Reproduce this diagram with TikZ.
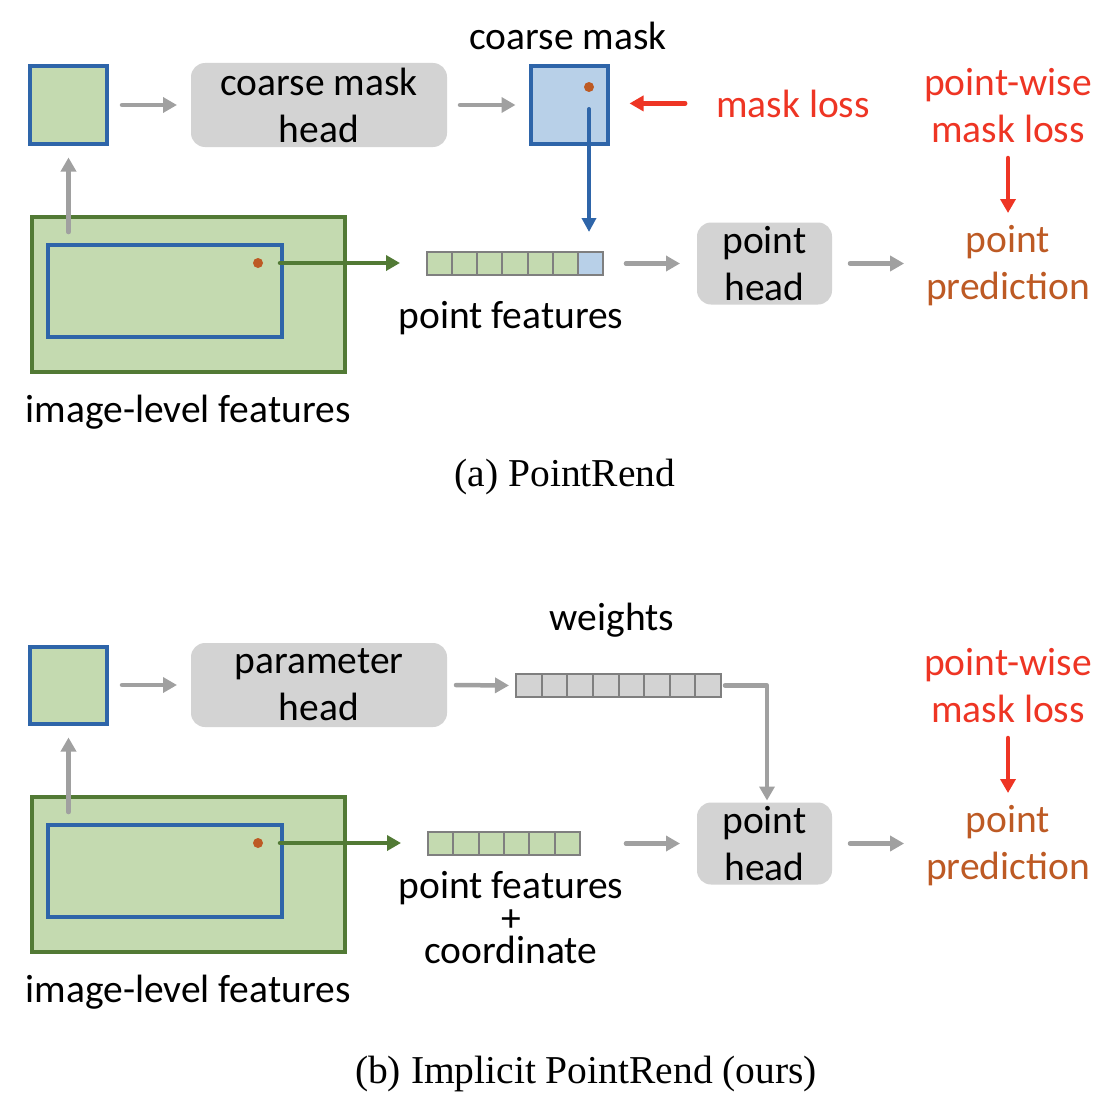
\documentclass[tikz,border=0pt]{standalone}
\usepackage{fontspec}
\setmainfont{Carlito}
\newfontfamily\capfont{Liberation Serif}
\usetikzlibrary{arrows.meta}
\definecolor{lgreen}{HTML}{C4DAB0}
\definecolor{bblue}{HTML}{2E65A9}
\definecolor{dgreen}{HTML}{527A35}
\definecolor{boxgray}{HTML}{D3D3D3}
\definecolor{agray}{HTML}{A0A0A0}
\definecolor{lblue}{HTML}{B8D0E8}
\definecolor{lred}{HTML}{EE3524}
\definecolor{ptbrown}{HTML}{BD5A24}
\definecolor{cellgray}{HTML}{7F7F7F}
\begin{document}
\begin{tikzpicture}[x=1pt,y=-1pt,
  every node/.style={outer sep=0pt},
  txt/.style={inner sep=0pt,font=\fontsize{39.5}{47}\selectfont},
  sqbox/.style={draw=bblue,line width=4pt,fill=lgreen,minimum width=77pt,minimum height=77pt,inner sep=0pt},
  headbox/.style={txt,fill=boxgray,rounded corners=14pt,align=center},
  cellbox/.style={draw=cellgray,line width=2pt,fill=lgreen,minimum height=23pt,inner sep=0pt},
  bigrect/.style={draw=dgreen,line width=4pt,fill=lgreen,minimum width=313pt,minimum height=155pt},
  innerrect/.style={draw=bblue,line width=4pt,minimum width=234pt,minimum height=92pt},
  pdot/.style={circle,fill=ptbrown,minimum size=10pt,inner sep=0pt},
  garrow/.style={draw=agray,line width=4.5pt,line cap=round,line join=round,-{Triangle[length=14pt,width=15pt]}},
  barrow/.style={draw=bblue,line width=4pt,line cap=round,-{Triangle[length=14pt,width=14pt]}},
  rarrow/.style={draw=lred,line width=4.5pt,line cap=round,-{Triangle[length=14pt,width=15pt]}},
  gnarrow/.style={draw=dgreen,line width=4.5pt,line cap=round,-{Triangle[length=14pt,width=15pt]}},
  captxt/.style={inner sep=0pt,font=\capfont\fontsize{39.5}{46}\selectfont}
]
\useasboundingbox (0,0) rectangle (1114,1116);

% ---------------- (a) PointRend ----------------
\node[sqbox] (sq1) at (68.5,105) {};
\node[headbox,minimum width=256pt,minimum height=84pt] (cmh) at (319,105) {coarse mask\\head};
\node[sqbox,fill=lblue] (cm) at (569,105) {};
\node[pdot] (cmdot) at (589,87) {};
\node[txt,anchor=base] (lcm) at (568,50) {coarse mask};
\node[txt,anchor=base,text=lred] (ml) at (793,117) {mask loss};
\node[txt,text=lred,align=center,minimum height=96pt] (pwl) at (1008,106) {point-wise\\mask loss};
\node[txt,text=ptbrown,align=center,minimum height=90pt] (pp) at (1008,266) {point\\prediction};
\node[headbox,minimum width=135pt,minimum height=82pt] (ph) at (764.5,263.5) {point\\head};

\node[bigrect] (big1) at (188.5,294.5) {};
\node[innerrect] (in1) at (165,291) {};
\node[pdot] (dot1) at (258,263) {};

\foreach \i in {1,...,6}
  \node[cellbox,minimum width=25.14pt] (f\i) at ({427+25.14*(\i-0.5)},263.5) {};
\node[cellbox,minimum width=25.14pt,fill=lblue] (f7) at ({427+25.14*6.5},263.5) {};
\node[txt,anchor=base] (lpf) at (511,328) {point features};
\node[txt,anchor=base] (lif) at (188,422) {image-level features};

\draw[garrow,shorten <=15pt,shorten >=14pt] (sq1.east) -- (cmh.west);
\draw[garrow,shorten <=13pt,shorten >=15pt] (cmh.east) -- (cm.west);
\draw[rarrow,shorten <=31pt,shorten >=22pt] (ml.west) -- (ml.west -| cm.east);
\draw[barrow,shorten <=17pt,shorten >=20pt] (cmdot) -- (cmdot |- f7.north);
\draw[rarrow,shorten <=4pt,shorten >=8pt] (pwl.south) -- (pp.north);
\draw[garrow,shorten <=13pt,shorten >=14pt] (sq1 |- in1.north) -- (sq1.south);
\draw[gnarrow,shorten <=17pt,shorten >=27pt] (dot1) -- (dot1 -| f1.west);
\draw[garrow,shorten <=23pt,shorten >=17pt] (f7.east) -- (ph.west);
\draw[garrow,shorten <=18pt,shorten >=22pt] (ph.east) -- (ph.east -| pp.west);

\node[captxt,anchor=base] (capa) at (565,486) {(a) PointRend};

% ---------------- (b) Implicit PointRend ----------------
\node[sqbox] (sq2) at (68.5,685) {};
\node[headbox,minimum width=256pt,minimum height=84pt] (phd) at (319,685) {parameter\\head};
\foreach \i in {1,...,8}
  \node[cellbox,minimum width=25.625pt,fill=boxgray] (w\i) at ({516+25.625*(\i-0.5)},685.5) {};
\node[txt,anchor=base] (lw) at (612,630) {weights};
\node[txt,text=lred,align=center,minimum height=96pt] (pwl2) at (1008,686) {point-wise\\mask loss};
\node[txt,text=ptbrown,align=center,minimum height=90pt] (pp2) at (1008,846) {point\\prediction};
\node[headbox,minimum width=135pt,minimum height=82pt] (ph2) at (764.5,843.5) {point\\head};

\node[bigrect] (big2) at (188.5,874.5) {};
\node[innerrect] (in2) at (165,871) {};
\node[pdot] (dot2) at (258,843) {};
\foreach \i in {1,...,6}
  \node[cellbox,minimum width=25.33pt] (g\i) at ({428+25.33*(\i-0.5)},843.5) {};
\node[txt,align=center,font=\fontsize{39.5}{32.5}\selectfont] (lpfc) at (511,918) {point features\\+\\coordinate};
\node[txt,anchor=base] (lif2) at (188,1002) {image-level features};

\draw[garrow,shorten <=15pt,shorten >=14pt] (sq2.east) -- (phd.west);
\draw[garrow,shorten <=9pt,shorten >=7pt] (phd.east) -- (w1.west);
\draw[garrow,shorten <=4pt,shorten >=2pt] (w8.east) -| ([xshift=2.5pt]ph2.north);
\draw[rarrow,shorten <=4pt,shorten >=8pt] (pwl2.south) -- (pp2.north);
\draw[garrow,shorten <=13pt,shorten >=14pt] (sq2 |- in2.north) -- (sq2.south);
\draw[gnarrow,shorten <=17pt,shorten >=27pt] (dot2) -- (dot2 -| g1.west);
\draw[garrow,shorten <=46pt,shorten >=17pt] (g6.east) -- (ph2.west);
\draw[garrow,shorten <=18pt,shorten >=22pt] (ph2.east) -- (ph2.east -| pp2.west);

\node[captxt,anchor=base] (capb) at (586,1083) {(b) Implicit PointRend (ours)};
\end{tikzpicture}
\end{document}
